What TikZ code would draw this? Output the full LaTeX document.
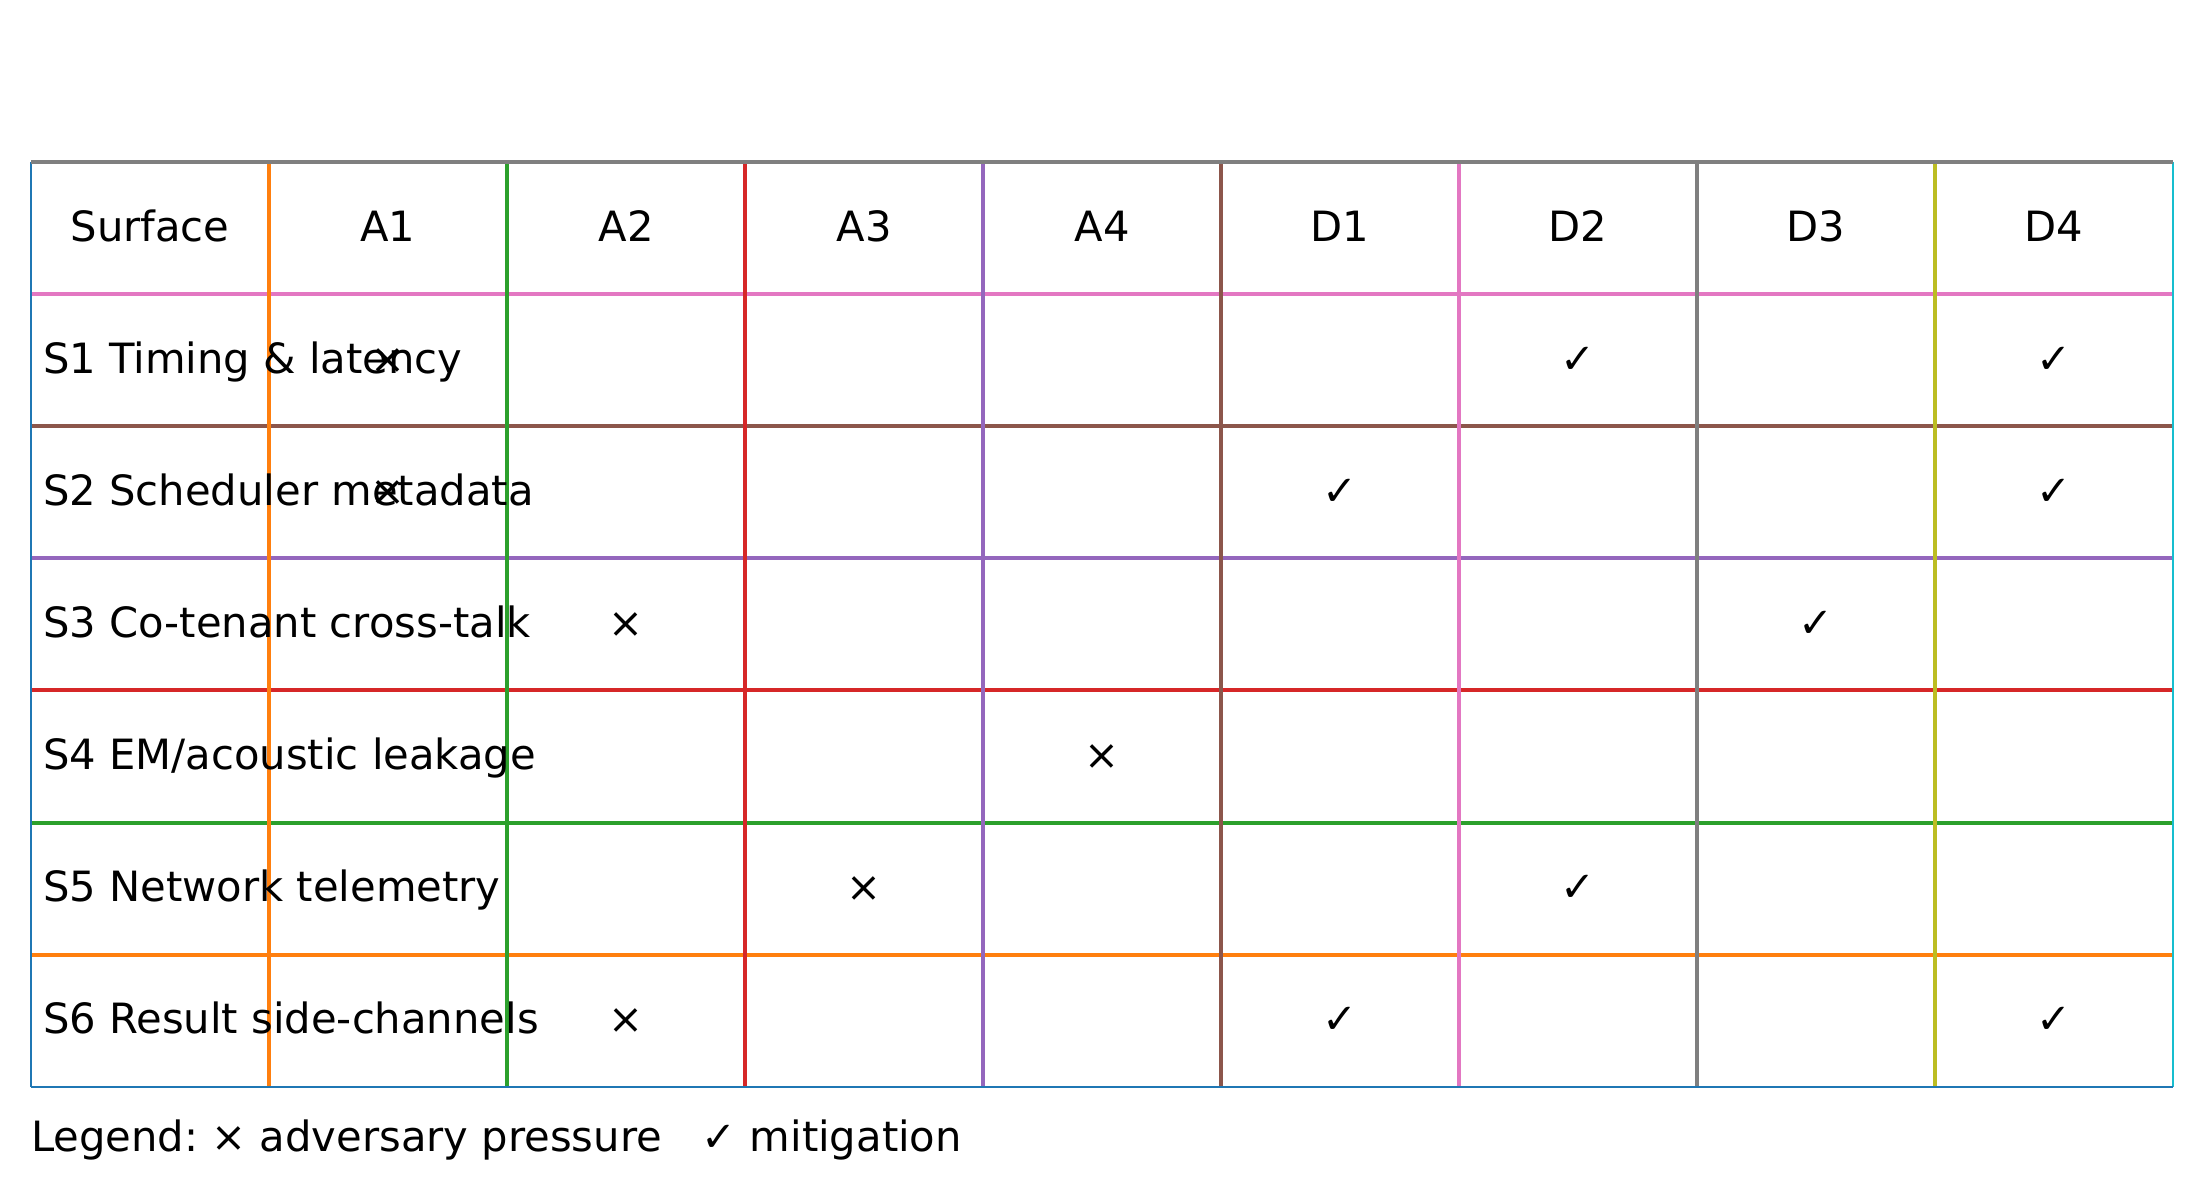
\documentclass[tikz,border=0pt]{standalone}
\usepackage{fontspec}
\setmainfont{DejaVu Sans}
\definecolor{c0}{HTML}{1F77B4}
\definecolor{c1}{HTML}{FF7F0E}
\definecolor{c2}{HTML}{2CA02C}
\definecolor{c3}{HTML}{D62728}
\definecolor{c4}{HTML}{9467BD}
\definecolor{c5}{HTML}{8C564B}
\definecolor{c6}{HTML}{E377C2}
\definecolor{c7}{HTML}{7F7F7F}
\definecolor{c8}{HTML}{BCBD22}
\definecolor{c9}{HTML}{17BECF}
\begin{document}
\frenchspacing
\begin{tikzpicture}[x=1pt,y=-1pt,
  txt/.style={font=\fontsize{41.7}{50}\selectfont, inner sep=0pt, anchor=base},
  lbl/.style={txt, anchor=base west},
  gridline/.style={line width=4pt},
  edgeline/.style={line width=2pt}]
\useasboundingbox (0,0) rectangle (2203,1191);
\def\cw{238}
\def\rh{132.1}
% coordinates
\foreach \i in {0,...,9} {\coordinate (x\i) at ({31+\cw*\i},0);}
\foreach \j in {0,...,7} {\coordinate (y\j) at (0,{162+\rh*\j});}
% interior horizontal lines
\foreach \j/\c in {1/c6,2/c5,3/c4,4/c3,5/c2,6/c1}
  {\draw[gridline,draw=\c] (x0 |- y\j) -- (x9 |- y\j);}
% interior vertical lines
\foreach \i/\c in {1/c1,2/c2,3/c3,4/c4,5/c5,6/c6,7/c7,8/c8}
  {\draw[gridline,draw=\c] (x\i |- y0) -- (x\i |- y7);}
% outer lines
\draw[edgeline,draw=c0] ([xshift=-0.5pt]x0 |- y0) -- ([xshift=-0.5pt]x0 |- y7);
\draw[edgeline,draw=c9] ([xshift=-0.5pt]x9 |- y0) -- ([xshift=-0.5pt]x9 |- y7);
\draw[edgeline,draw=c0] (x0 |- y7) -- (x9 |- y7);
\draw[gridline,draw=c7] (x0 |- y0) -- (x9 |- y0);
% header
\foreach \i/\t in {0/Surface,1/A1,2/A2,3/A3,4/A4,5/D1,6/D2,7/D3,8/D4}
  {\node[txt] (h\i) at ({31+\cw*(\i+0.5)},{162+\rh*0.5+13}) {\t};}
% row labels
\foreach \j/\t in {1/{S1 Timing \& latency},2/{S2 Scheduler metadata},3/{S3 Co-tenant cross-talk},4/{S4 EM{/}acoustic leakage},5/{S5 Network telemetry},6/{S6 Result side-channels}}
  {\node[lbl] (r\j) at (43,{162+\rh*(\j+0.5)+13}) {\t};}
% marks
\foreach \j/\i/\m/\n in {1/1/×/a,1/6/✓/b,1/8/✓/c,
                      2/1/×/a,2/5/✓/b,2/8/✓/c,
                      3/2/×/a,3/7/✓/b,
                      4/4/×/a,
                      5/3/×/a,5/6/✓/b,
                      6/2/×/a,6/5/✓/b,6/8/✓/c}
  {\node[txt] (m\j\n) at ({31+\cw*(\i+0.5)},{162+\rh*(\j+0.5)+13}) {\m};}
% legend
\node[lbl] (legend) at (31,1151) {Legend: × adversary pressure\hspace{0.954em}✓ mitigation};
\end{tikzpicture}
\end{document}
